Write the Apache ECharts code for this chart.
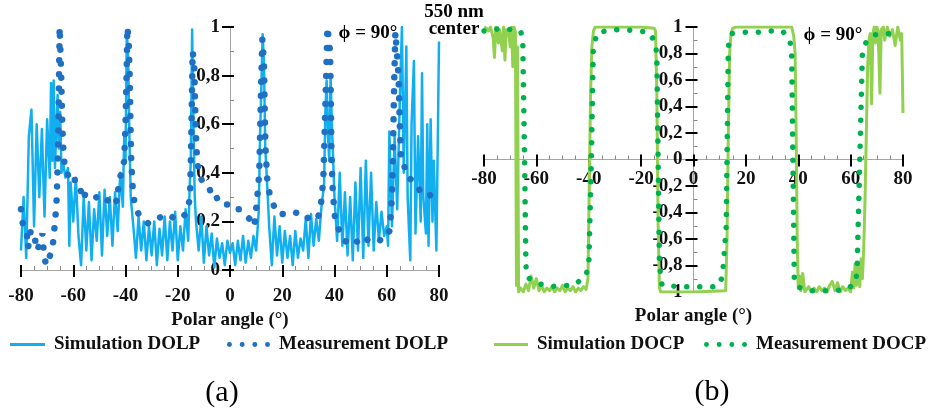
<!DOCTYPE html>
<html><head><meta charset="utf-8">
<script src="https://cdn.jsdelivr.net/npm/echarts@6/dist/echarts.min.js"></script>
<style>html,body{margin:0;padding:0;background:#fff}#c{width:934px;height:414px}</style>
</head><body><div id="c"></div>
<script>
// ---------------- data ----------------
const xTickRange = [-80, 80];
const dolpRange = [0, 1];
const docpRange = [-1, 1];

// Simulation DOLP [polar angle, value]
const simDOLP = [[-80,0.08],[-79,0.30],[-78,0.05],[-77,0.55],[-76,0.66],[-75,0.18],[-74,0.60],[-73,0.30],[-72,0.58],[-71,0.22],[-70,0.62],[-69,0.38],[-68.5,0.77],[-68,0.45],[-67.5,0.78],[-67,0.42],[-66,0.72],[-65.5,0.50],[-65,0.65],[-64.5,0.40],[-64,0.45],[-63,0.38],[-62,0.42],[-61.5,0.10],[-61,0.36],[-60,0.20],[-59,0.38],[-58,0.14],[-57,0.02],[-56,0.30],[-55,0.08],[-54,0.28],[-53,0.04],[-52,0.25],[-51,0.12],[-50,0.32],[-49,0.06],[-48,0.33],[-47,0.14],[-46,0.30],[-45,0.10],[-44,0.32],[-43,0.16],[-42,0.40],[-41,0.26],[-40.5,0.55],[-40,0.45],[-39.5,0.98],[-39,0.88],[-38.5,0.55],[-38,0.30],[-37,0.18],[-36,0.05],[-35,0.22],[-34,0.08],[-33,0.20],[-32,0.04],[-31,0.18],[-30,0.06],[-29,0.20],[-28,0.02],[-27,0.17],[-26,0.06],[-25,0.22],[-24,0.04],[-23,0.20],[-22,0.08],[-21,0.24],[-20,0.04],[-19,0.18],[-18,0.08],[-17,0.25],[-16,0.12],[-15.5,0.32],[-15,0.45],[-14.5,0.99],[-14,0.62],[-13.5,0.30],[-13,0.20],[-12,0.08],[-11,0.22],[-10,0.03],[-9,0.18],[-8,0.06],[-7,0.15],[-6,0.01],[-5,0.13],[-4,0.05],[-3,0.11],[-2,0.02],[-1,0.12],[0,0.07],[1,0.11],[2,0.02],[3,0.12],[4,0.04],[5,0.14],[6,0.03],[7,0.12],[8,0.05],[9,0.14],[10,0.08],[11,0.24],[11.5,0.55],[12,0.75],[12.5,0.97],[13,0.85],[13.5,0.50],[14,0.40],[15,0.18],[16,0.02],[17,0.22],[18,0.06],[19,0.18],[20,0.03],[21,0.16],[22,0.05],[23,0.14],[24,0.02],[25,0.16],[26,0.05],[27,0.13],[28,0.08],[29,0.21],[30,0.05],[31,0.23],[32,0.10],[33,0.21],[34,0.12],[35,0.26],[36,0.35],[36.5,0.65],[37,0.78],[37.5,0.55],[38,0.45],[38.5,0.80],[39,0.60],[39.5,0.45],[40,0.30],[41,0.12],[42,0.40],[43,0.10],[44,0.32],[45,0.06],[46,0.30],[47,0.04],[48,0.36],[49,0.08],[50,0.42],[51,0.05],[52,0.45],[53,0.10],[54,0.40],[55,0.08],[56,0.28],[57,0.12],[58,0.24],[59,0.14],[60,0.18],[60.5,0.10],[61,0.57],[62,0.18],[63,0.55],[64,0.25],[65,0.70],[65.8,1.0],[66.5,0.40],[67.5,0.92],[68,0.30],[69,0.04],[69.5,0.60],[70.4,0.86],[71,0.15],[72,0.55],[73,0.20],[73.5,0.81],[74,0.30],[75,0.15],[75.5,0.60],[76,0.10],[76.8,0.62],[77.5,0.20],[78,0.45],[79,0.08],[79.5,0.50],[80,0.94]];

// Measurement DOLP [polar angle, value]
const measDOLP = [[-80,0.25],[-79.5,0.20],[-78.9,0.17],[-77.8,0.15],[-77.3,0.09],[-76.3,0.16],[-75.7,0.12],[-74.4,0.12],[-73.8,0.08],[-72.5,0.12],[-71.8,0.15],[-71.4,0.09],[-70.5,0.02],[-69.3,0.05],[-68,0.08],[-67.4,0.15],[-66.8,0.22],[-66.3,0.30],[-65.8,0.50],[-65.5,0.75],[-65.2,1.0],[-64.6,0.80],[-64.2,0.60],[-63.8,0.50],[-63.3,0.43],[-62.5,0.42],[-61.5,0.36],[-60,0.37],[-58.5,0.37],[-57.5,0.35],[-56.5,0.29],[-55.5,0.31],[-53.5,0.30],[-52,0.31],[-50.5,0.29],[-49,0.30],[-47.5,0.29],[-45.5,0.28],[-44.5,0.30],[-43.2,0.28],[-42.5,0.37],[-41.5,0.40],[-40.5,0.45],[-40,0.60],[-39.6,0.80],[-39.3,1.0],[-38.8,0.95],[-38.4,0.80],[-38.1,0.60],[-37.8,0.45],[-37.2,0.33],[-36.6,0.28],[-35,0.23],[-32.5,0.20],[-31,0.19],[-28,0.21],[-26,0.22],[-24,0.23],[-21,0.21],[-19,0.21],[-17,0.23],[-16,0.26],[-15.3,0.30],[-14.9,0.50],[-14.6,0.70],[-14.3,0.90],[-13.7,0.85],[-13.4,0.70],[-13,0.55],[-12.6,0.45],[-11.8,0.40],[-10.5,0.36],[-8,0.34],[-6.5,0.29],[-4,0.30],[-2,0.27],[0,0.27],[1.5,0.25],[3.5,0.25],[5.5,0.23],[7.5,0.21],[9.3,0.18],[10,0.25],[10.6,0.32],[11.2,0.40],[11.6,0.60],[12,0.80],[12.4,0.95],[13,0.85],[13.3,0.65],[13.6,0.50],[14.2,0.38],[15.2,0.31],[17.3,0.25],[18.5,0.23],[21,0.23],[24,0.24],[27,0.23],[29,0.23],[30,0.21],[32,0.21],[33.5,0.21],[34.6,0.25],[35.3,0.32],[35.8,0.40],[36.3,0.60],[36.8,0.80],[37.3,1.0],[38.3,0.90],[38.6,0.70],[38.8,0.50],[39.2,0.35],[40,0.23],[41,0.18],[42,0.16],[44,0.12],[46.5,0.10],[49,0.12],[51,0.14],[53,0.12],[56,0.13],[58,0.12],[60,0.14],[61,0.16],[61.5,0.22],[62,0.30],[62.4,0.50],[62.8,0.75],[63.3,0.98],[64.5,0.80],[65,0.60],[65.5,0.45],[66.5,0.44],[67.5,0.39],[69.5,0.37],[71.5,0.35],[73,0.32],[74.5,0.32],[76,0.32],[77.5,0.29],[79.5,0.28]];

// Simulation DOCP [polar angle, value]
const simDOCP = [[-80,1.0],[-79,0.99],[-78.3,0.97],[-77.5,1.0],[-76.5,0.92],[-76,0.77],[-75.5,1.0],[-74.5,0.88],[-74,0.98],[-73,0.82],[-72.5,1.0],[-72,0.75],[-71.5,0.98],[-70.5,0.95],[-70,0.85],[-69.5,1.0],[-69,0.70],[-68.5,1.0],[-68,0.96],[-67.6,-0.95],[-67.2,0.85],[-66.8,-1.0],[-66,-0.97],[-65,-1.0],[-64,-0.94],[-63,-0.99],[-62,-0.88],[-61,-0.97],[-60,-0.90],[-59,-0.99],[-58,-0.95],[-57,-1.0],[-56,-0.97],[-55,-0.99],[-54,-0.96],[-53,-1.0],[-52,-0.97],[-51,-0.99],[-50,-0.95],[-49,-1.0],[-48,-0.97],[-47,-0.99],[-46,-0.96],[-45,-1.0],[-44,-0.97],[-43,-0.99],[-42,-0.96],[-41,-0.98],[-40.3,-0.90],[-39.8,-0.20],[-39.3,0.50],[-38.8,0.85],[-38.2,0.97],[-37.5,1.0],[-30,1.0],[-20,1.0],[-15,0.99],[-14.5,0.97],[-14,0.50],[-13.5,-0.50],[-13,-0.97],[-12.5,-1.0],[0,-1.0],[12.3,-0.99],[12.8,-0.60],[13.3,0.20],[13.8,0.80],[14.3,0.95],[15,0.99],[16,1.0],[37.5,1.0],[38.3,0.93],[38.8,0.80],[39.2,0.20],[39.6,-0.60],[40,-0.97],[40.5,-0.88],[41,-0.99],[41.7,-0.86],[42.5,-1.0],[44,-0.96],[45,-1.0],[46,-0.97],[47,-1.0],[48,-0.96],[49,-0.99],[50,-0.97],[51,-1.0],[52,-0.95],[53,-0.92],[54,-0.99],[55,-0.93],[56,-1.0],[57,-0.96],[58,-0.99],[59,-0.97],[60,-1.0],[60.7,-0.85],[61.2,-0.97],[61.7,-0.79],[62.2,-0.95],[62.8,-0.80],[63.5,-0.96],[64,-0.75],[64.5,-0.90],[65,-0.67],[65.5,-0.30],[66,0.20],[66.5,0.70],[67,0.90],[67.5,0.95],[68,0.42],[68.5,0.95],[69,1.0],[69.5,0.88],[70,1.0],[70.5,0.97],[71.2,0.50],[71.7,0.98],[72.5,1.0],[73,0.90],[74,1.0],[75,0.93],[76,0.98],[77,0.86],[78,1.0],[79,0.90],[79.5,0.95],[80,0.35]];

// Measurement DOCP [polar angle, value]
const measDOCP = [[-80,0.97],[-76.5,0.98],[-73,0.99],[-66,0.97],[-65.2,0.90],[-64.5,0],[-64,-0.80],[-63.5,-0.89],[-61.5,-0.91],[-58.5,-0.94],[-54.5,-0.96],[-50,-0.95],[-46,-0.95],[-41.5,-0.89],[-40,-0.81],[-39,0],[-38.3,0.82],[-37,0.95],[-36,0.96],[-31,0.98],[-26.5,0.98],[-21.5,0.97],[-17,0.96],[-14.5,0.88],[-14,0.77],[-13.5,0],[-13,-0.80],[-12,-0.95],[-4.5,-0.96],[0,-0.96],[4.5,-0.96],[9,-0.96],[11,-0.89],[12.5,-0.50],[13.3,0.85],[14.5,0.95],[19.5,0.96],[24.5,0.96],[29.5,0.97],[34,0.97],[36.8,0.90],[37.5,0.80],[38.5,-0.90],[39.5,-0.96],[44.5,-0.99],[49,-0.99],[54,-0.99],[58.5,-0.98],[62,-0.93],[62.5,-0.81],[63.5,0],[64.5,0.81],[66,0.89],[69,0.94],[73.5,0.95],[79,0.95]];

// ---------------- styling ----------------
const FONT = '"Liberation Serif", "Times New Roman", serif';
const lab = {fontFamily: FONT, fontWeight: 'bold', fontSize: 19, color: '#111'};
const fmt = v => String(Math.round(v * 10) / 10).replace('.', ',');
const AX = '#a6a6a6';
const C_SIM_L = '#12aff0', C_MEAS_L = '#1f6fc2', C_SIM_C = '#92d050', C_MEAS_C = '#00b050';
const dotsIcon = 'path://M0,2.5a2.5,2.5 0 1,0 5,0a2.5,2.5 0 1,0 -5,0Z M12.8,2.5a2.5,2.5 0 1,0 5,0a2.5,2.5 0 1,0 -5,0Z M25.6,2.5a2.5,2.5 0 1,0 5,0a2.5,2.5 0 1,0 -5,0Z M38.4,2.5a2.5,2.5 0 1,0 5,0a2.5,2.5 0 1,0 -5,0Z';

// grids: [left, width, top, height]
const G = [[21, 418, 27, 243], [484, 419, 27, 265]];
// offsets that put each axis on the other axis' zero
const yOff = g => -G[g][1] * (0 - xTickRange[0]) / (xTickRange[1] - xTickRange[0]);
const xOffRight = -G[1][3] * (0 - docpRange[0]) / (docpRange[1] - docpRange[0]);

function xMain(grid, margin, nameGap, off) {
  return {gridIndex: grid, type: 'value', min: xTickRange[0], max: xTickRange[1], interval: 20, position: 'bottom', offset: off,
    axisLine: {onZero: false, lineStyle: {color: AX, width: 1}},
    axisTick: {show: true, inside: false, length: 7, lineStyle: {color: '#000', width: 2}},
    axisLabel: Object.assign({}, lab, {margin: margin, formatter: v => String(v)}),
    splitLine: {show: false},
    name: 'Polar angle (°)', nameLocation: 'middle', nameGap: nameGap,
    nameTextStyle: Object.assign({}, lab)};
}
function xInner(grid, off) {
  return {gridIndex: grid, type: 'value', min: xTickRange[0], max: xTickRange[1], interval: 20, position: 'bottom', offset: off,
    axisLine: {show: false, onZero: false},
    axisTick: {show: true, inside: true, length: 5, lineStyle: {color: '#000', width: 2}},
    minorTick: {show: true, splitNumber: 4, length: 4, lineStyle: {color: '#888', width: 1}},
    axisLabel: {show: false}, splitLine: {show: false}};
}
function yMain(grid, range, margin, off) {
  return {gridIndex: grid, type: 'value', min: range[0], max: range[1], interval: 0.2, position: 'left', offset: off,
    axisLine: {onZero: false, lineStyle: {color: AX, width: 1}},
    axisTick: {show: true, inside: false, length: 8, lineStyle: {color: '#000', width: 2}},
    axisLabel: Object.assign({}, lab, {margin: margin, formatter: fmt}),
    splitLine: {show: false}};
}
function yInner(grid, range, off) {
  return {gridIndex: grid, type: 'value', min: range[0], max: range[1], interval: 0.2, position: 'left', offset: off,
    axisLine: {show: false, onZero: false},
    axisTick: {show: true, inside: true, length: 4, lineStyle: {color: '#000', width: 2}},
    minorTick: {show: true, splitNumber: 2, length: 4, lineStyle: {color: '#888', width: 1}},
    axisLabel: {show: false}, splitLine: {show: false}};
}
function legend(name, left, icon, w, h) {
  return {data: [name], left: left, top: 335, padding: 0, itemWidth: w, itemHeight: h, icon: icon,
    selectedMode: false, itemStyle: {borderWidth: 0},
    textStyle: Object.assign({}, lab, {padding: [0, 0, 0, 4]})};
}
function txt(x, y, s, font) {
  return {type: 'text', x: x, y: y, style: {text: s, font: font, fill: '#000', align: 'center', verticalAlign: 'middle'}};
}

const option = {
  animation: false,
  backgroundColor: '#fff',
  grid: G.map(g => ({left: g[0], width: g[1], top: g[2], height: g[3], containLabel: false, outerBoundsMode: 'none'})),
  xAxis: [xMain(0, 17, 31, 0), xInner(0, 0), xMain(1, 10, 147, xOffRight), xInner(1, xOffRight)],
  yAxis: [yMain(0, dolpRange, 10, yOff(0)), yInner(0, dolpRange, yOff(0)), yMain(1, docpRange, 11, yOff(1)), yInner(1, docpRange, yOff(1))],
  legend: [
    legend('Simulation DOLP', 10, 'path://M0,0H35V3H0Z', 35, 3),
    legend('Measurement DOLP', 227, dotsIcon, 43, 5),
    legend('Simulation DOCP', 494, 'path://M0,0H34V3H0Z', 34, 3),
    legend('Measurement DOCP', 704, dotsIcon, 43, 5)
  ],
  series: [
    {name: 'Simulation DOLP', type: 'line', xAxisIndex: 0, yAxisIndex: 0, data: simDOLP, showSymbol: false, symbol: 'none',
      color: C_SIM_L, itemStyle: {color: C_SIM_L}, lineStyle: {color: C_SIM_L, width: 2.5, join: 'round'}},
    {name: 'Measurement DOLP', type: 'line', xAxisIndex: 0, yAxisIndex: 0, data: measDOLP, showSymbol: false, symbol: 'none',
      color: C_MEAS_L, itemStyle: {color: C_MEAS_L}, lineStyle: {color: C_MEAS_L, width: 6.5, type: [0.01, 14], cap: 'round'}},
    {name: 'Simulation DOCP', type: 'line', xAxisIndex: 2, yAxisIndex: 2, data: simDOCP, showSymbol: false, symbol: 'none',
      color: C_SIM_C, itemStyle: {color: C_SIM_C}, lineStyle: {color: C_SIM_C, width: 3, join: 'round'}},
    {name: 'Measurement DOCP', type: 'line', xAxisIndex: 2, yAxisIndex: 2, data: measDOCP, showSymbol: false, symbol: 'none',
      color: C_MEAS_C, itemStyle: {color: C_MEAS_C}, lineStyle: {color: C_MEAS_C, width: 5.5, type: [0.01, 13], cap: 'round'}}
  ],
  graphic: [
    txt(454, 12, '550 nm', 'bold 19px ' + FONT),
    txt(454, 29, 'center', 'bold 19px ' + FONT),
    txt(368, 33, 'ϕ = 90°', 'bold 19px ' + FONT),
    txt(833, 35, 'ϕ = 90°', 'bold 19px ' + FONT),
    txt(222, 393, '(a)', '30px ' + FONT),
    txt(712, 392, '(b)', '30px ' + FONT)
  ]
};
echarts.init(document.getElementById('c'), null, {renderer: 'canvas'}).setOption(option);
</script></body></html>
